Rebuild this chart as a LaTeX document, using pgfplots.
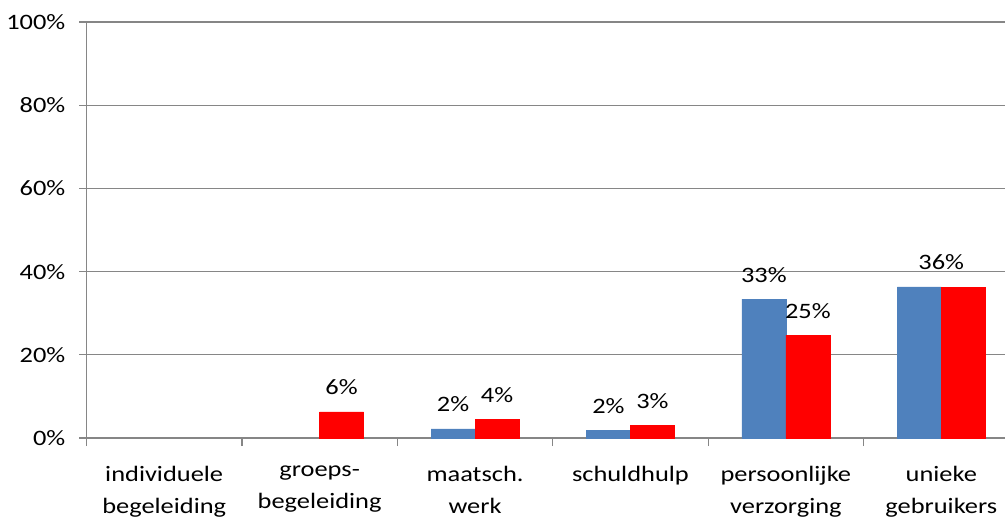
\documentclass[border=0pt]{standalone}
\usepackage{pgfplots}
\pgfplotsset{compat=1.18}
\usepackage{fontspec}
\setmainfont{Carlito}[FakeStretch=1.2]
\definecolor{barblue}{HTML}{4F81BD}
\definecolor{barred}{HTML}{FF0000}
\definecolor{axgray}{HTML}{868686}

\begin{document}
\fontsize{22pt}{32pt}\selectfont
\begin{tikzpicture}
\path[use as bounding box] (-86.5pt,-82pt) rectangle (918.5pt,438pt);
\begin{axis}[
    at={(0,0)}, anchor=south west,
    scale only axis,
    width=918.5pt, height=416pt,
    ybar, bar width=44pt,
    xmin=-0.5, xmax=5.41,
    ymin=0, ymax=100,
    axis x line*=bottom, axis y line*=left,
    axis line style={axgray, line width=1.2pt},
    ytick={0,20,40,60,80,100},
    yticklabels={0\%,20\%,40\%,60\%,80\%,100\%},
    xtick={0,1,2,3,4,5},
    xticklabels={individuele\\begeleiding, groeps-\\begeleiding, maatsch.\\werk, schuldhulp, persoonlijke\\verzorging, unieke\\gebruikers},
    minor xtick={-0.5,0.5,1.5,2.5,3.5,4.5},
    major x tick style={draw=none},
    tick align=outside,
    major tick length=7pt, minor tick length=8pt,
    tick style={axgray, line width=1.2pt},
    ymajorgrids, grid style={axgray, line width=1.2pt},
    yticklabel style={anchor=east, inner sep=0pt, xshift=-14pt},
    xticklabel style={align=center, anchor=north, inner sep=0pt, yshift=-21pt},
    nodes near coords,
    point meta=explicit symbolic,
    every node near coord/.append style={anchor=base, inner sep=0pt, yshift=17pt, black},
    clip=true,
]
\addplot[fill=barblue, draw=barblue, bar shift=-22pt] coordinates {
    (2,2.2) [2\%] (3,1.9) [2\%] (4,33.4) [33\%] (5,36.3) []
};
\addplot[fill=barred, draw=barred, bar shift=22pt] coordinates {
    (1,6.3) [6\%] (2,4.4) [4\%] (3,3.0) [3\%] (4,24.7) [25\%] (5,36.2) []
};
\addplot[draw=none, fill=none, bar shift=0pt] coordinates {
    (5,36.3) [36\%]
};
\end{axis}
\end{tikzpicture}
\end{document}
